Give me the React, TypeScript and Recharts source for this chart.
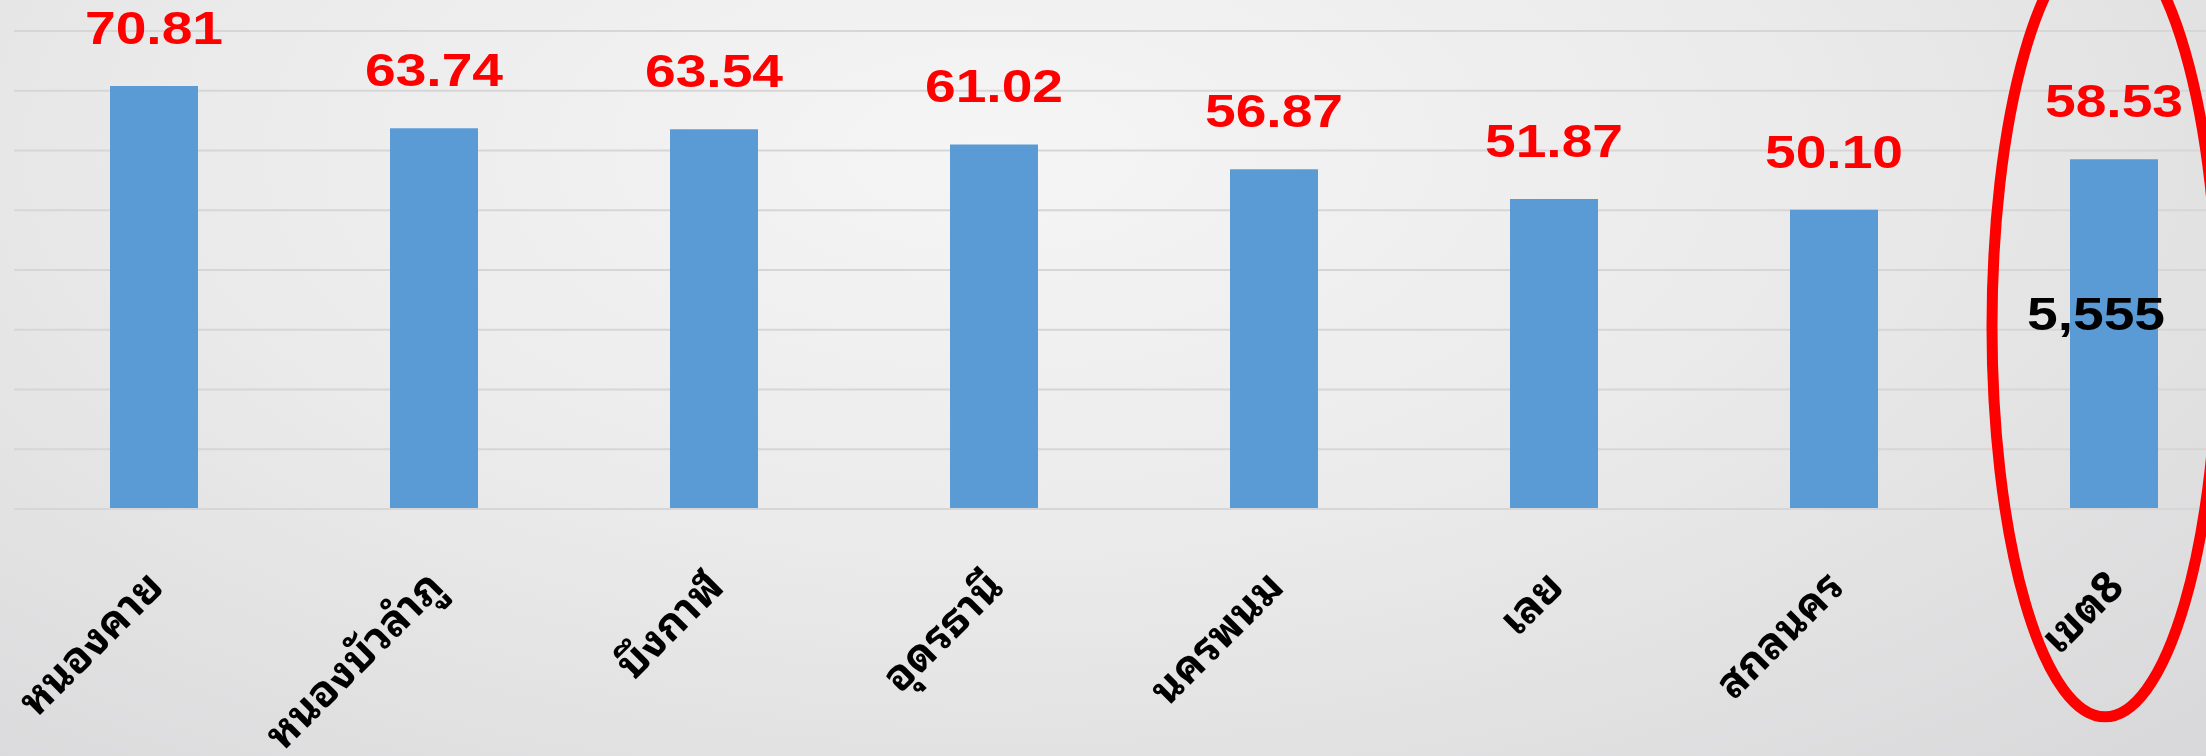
import { BarChart, Bar, XAxis, YAxis, CartesianGrid, LabelList, ReferenceDot } from "recharts";

const provinces = ["หนองคาย", "หนองบัวลำภู", "บึงกาฬ", "อุดรธานี", "นครพนม", "เลย", "สกลนคร", "เขต8"];
const scores = [70.81, 63.74, 63.54, 61.02, 56.87, 51.87, 50.1, 58.53];
const zoneTotal = 5555;
const yTicks = [0, 10, 20, 30, 40, 50, 60, 70, 80];

const data = provinces.map((name, i) => ({
  name,
  score: scores[i],
  total: i === provinces.length - 1 ? zoneTotal : null,
}));

const digitFont = "'Liberation Sans', Arial, sans-serif";
const thaiFont = "'Noto Sans Thai Looped', Loma, Garuda, Waree, 'Tlwg Typo', Tahoma, 'Noto Sans Thai', 'Noto Sans', sans-serif";

const ScoreLabel = (props: any) => {
  const { x, y, width, value } = props;
  if (value == null) return null;
  const cx = x + width / 2;
  return (
    <text
      transform={`translate(${cx},${y - 42}) scale(1.2,1)`}
      textAnchor="middle"
      fill="#ff0000"
      fontFamily={digitFont}
      fontWeight="bold"
      fontSize={46}
    >
      {Number(value).toFixed(2)}
    </text>
  );
};

const TotalLabel = (props: any) => {
  const { x, y, width, height, value } = props;
  if (value == null) return null;
  const cx = x + width / 2 - 18;
  return (
    <text
      transform={`translate(${cx},${y + height / 2 - 4}) scale(1.2,1)`}
      textAnchor="middle"
      fill="#000"
      fontFamily={digitFont}
      fontWeight="bold"
      fontSize={46}
    >
      {Number(value).toLocaleString("en-US")}
    </text>
  );
};

const RegionTick = (props: any) => {
  const { x, y, payload } = props;
  const ax = x + 12;
  const ay = y + 80;
  return (
    <text
      x={ax}
      y={ay}
      transform={`rotate(-45, ${ax}, ${ay})`}
      textAnchor="end"
      fill="#000"
      fontFamily={thaiFont}
      fontWeight="bold"
      fontSize={43}
    >
      {payload.value}
    </text>
  );
};

const ZoneRing = (props: any) => (
  <ellipse cx={props.cx - 9} cy={props.cy} rx={113} ry={390} fill="none" stroke="#ff0000" strokeWidth={11} />
);

export default function App() {
  return (
    <div
      style={{
        position: "fixed",
        top: 0,
        left: 0,
        width: 2206,
        height: 756,
        overflow: "hidden",
        background: "radial-gradient(ellipse at 45% 20%, #f5f5f5 0%, #ebebeb 45%, #d8d8da 100%)",
      }}
    >
      <BarChart width={2254} height={756} data={data} margin={{ top: 31, right: 0, left: 14, bottom: 47 }}>
        <CartesianGrid vertical={false} stroke="#d6d6d6" strokeWidth={2} />
        <YAxis hide domain={[0, 80]} ticks={yTicks} />
        <XAxis
          dataKey="name"
          height={200}
          tickLine={false}
          tickSize={0}
          tickMargin={0}
          interval={0}
          axisLine={{ stroke: "#d6d6d6", strokeWidth: 2 }}
          tick={<RegionTick />}
        />
        <Bar dataKey="score" fill="#5b9bd5" barSize={88} isAnimationActive={false}>
          <LabelList dataKey="score" content={<ScoreLabel />} />
          <LabelList dataKey="total" content={<TotalLabel />} />
        </Bar>
        <ReferenceDot x="เขต8" y={30.5} r={0} shape={<ZoneRing />} />
      </BarChart>
    </div>
  );
}
